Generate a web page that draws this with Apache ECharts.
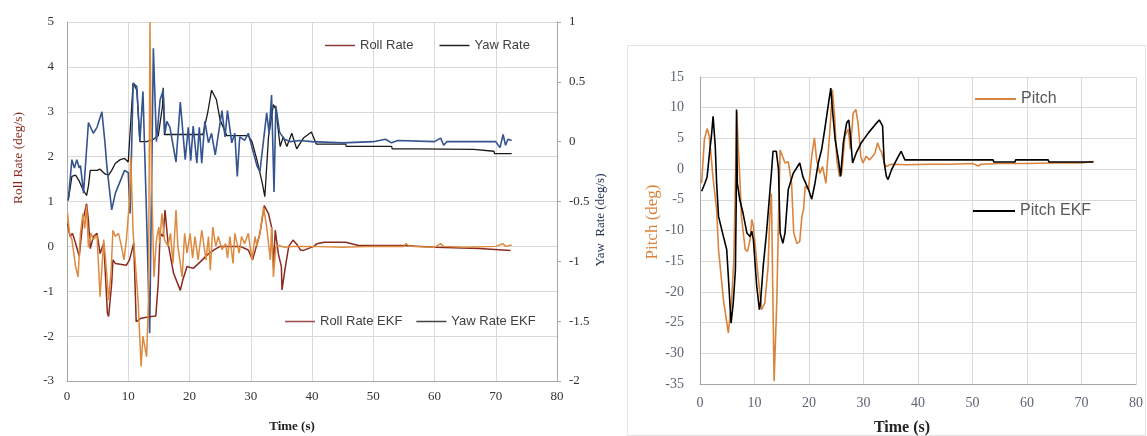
<!DOCTYPE html>
<html><head><meta charset="utf-8">
<script src="https://cdn.jsdelivr.net/npm/echarts@6/dist/echarts.min.js"></script>
<style>html,body{margin:0;padding:0;background:#fff}#c{width:1147px;height:436px}</style>
</head><body><div id="c"></div>
<script>
// ---------- Left panel: Roll / Yaw rates ----------
const rollT = [0.1,0.4,0.8,1.4,1.8,2.2,2.6,2.9,3.2,3.5,3.9,4.3,4.9,5.4,6.0,6.4,6.8,7.2,7.5,7.9,8.4,8.8,9.3,9.7,10.2,10.4,10.8,11.2,11.6,12.1,12.4,13.0,13.3,13.55,13.8,14.2,14.6,15.0,15.1,15.5,15.9,16.5,16.9,17.3,17.8,18.1,18.8,19.2,19.6,20.1,20.5,20.9,21.4,22.0,22.7,23.1,23.4,23.8,24.3,24.7,25.3,25.9,26.2,26.6,27.1,27.4,28.1,28.5,29.0,29.6,30.2,30.7,31.0,31.5,32.1,32.6,33.2,33.4,33.7,34.1,34.6,35.5,37,40,45,50,55,55.3,56,60,61,61.5,65,70,71.2,71.6,72.6];
const rollV = [0.73,0.29,0.15,-0.45,-0.68,0.29,0.73,0.4,0.91,-0.02,0.3,0.15,0.25,-1.12,0.15,-0.45,-1.2,-0.55,0.36,0.22,0.29,0.06,-0.3,0.15,1.02,2.0,0.29,-0.45,-1.2,-2.68,-2.0,-2.46,-1.2,5.0,1.5,-0.68,0.15,0.43,0.06,0.73,0.15,0.0,0.29,-0.38,0.81,0.0,-0.68,0.29,-0.15,0.29,-0.26,0.22,-0.3,0.36,-0.3,0.22,-0.53,0.43,0.0,0.22,-0.07,0.06,-0.26,0.22,-0.38,0.29,-0.15,0.22,0.06,0.29,-0.3,0.22,0.0,0.29,0.87,0.43,-0.3,0.43,-0.68,0.0,0.02,-0.02,0.0,0.0,-0.02,0.0,0.0,0.06,0.0,-0.02,0.06,0.0,-0.02,0.0,0.06,0.0,0.03];

const rollEkfT = [0.1,0.5,0.9,1.4,2.0,2.6,3.2,3.5,3.8,4.3,4.9,5.4,6.0,6.6,6.8,7.3,7.5,7.9,9.7,10.2,10.9,11.3,12.1,13.5,14.5,14.9,15.2,15.7,16.0,16.5,17.4,18.5,18.9,19.6,20.6,21.8,22.9,24.0,25.0,28.3,29.6,30.3,31.5,32.2,32.9,33.4,33.7,34.0,34.5,35.0,35.1,35.6,36.2,36.9,37.5,38.1,38.6,40.3,40.8,42.0,45.5,47.6,54.7,54.8,60.2,60.3,67.3,67.4,72.4];
const rollEkfV = [0.51,0.22,0.29,0.07,-0.22,0.58,0.95,0.58,-0.05,0.22,0.29,-0.16,0.07,-1.49,-1.56,-0.82,-0.3,-0.38,-0.42,-0.3,0.07,-1.68,-1.6,-1.57,-1.55,-0.82,0.29,0.22,0.81,0.07,-0.6,-0.98,-0.75,-0.45,-0.49,-0.34,-0.19,-0.08,0.0,0.0,-0.08,-0.3,0.29,0.91,0.73,0.43,-0.45,0.36,-0.16,-0.45,-0.97,-0.5,0.0,0.14,0.05,-0.08,-0.09,0.0,0.06,0.09,0.09,0.02,0.02,-0.02,-0.02,-0.05,-0.05,-0.09,-0.09];

const yawT = [0.2,0.8,1.2,1.6,2.0,2.2,2.7,3.5,4.3,4.9,5.7,6.2,6.5,7.3,7.9,9.4,10.0,10.3,10.8,11.4,11.9,12.4,12.9,13.5,14.1,14.6,15.2,15.7,16.0,16.3,16.8,17.8,18.5,19.3,19.8,20.2,20.6,21.2,21.6,22.0,22.5,23.1,23.6,24.2,25.3,25.8,26.2,26.9,27.4,27.8,28.2,29.0,29.6,31.0,31.5,32.6,33.0,33.4,33.8,34.1,34.7,35.5,36.5,38,40,45,50,52,53,54,60,61,61.5,62,70,70.7,71.2,71.6,72.0,72.6];
const yawV = [-0.49,-0.15,-0.22,-0.15,-0.22,-0.2,-0.43,0.16,0.07,0.12,0.25,-0.01,-0.2,-0.57,-0.43,-0.24,-0.26,-0.6,0.49,0.46,0.0,0.42,-0.46,-1.6,0.78,0.0,0.35,0.43,0.07,0.17,0.12,-0.17,0.33,-0.15,0.12,-0.16,0.13,-0.18,0.12,-0.18,0.17,-0.01,0.07,-0.11,0.26,0.04,0.26,-0.01,0.07,-0.29,0.04,0.01,0.07,-0.2,-0.25,0.24,0.07,0.39,-0.42,0.3,0.08,0.02,0.0,0.01,0.0,-0.01,0.0,0.02,-0.01,0.01,0.0,0.03,-0.03,0.0,0.0,-0.05,0.06,-0.03,0.02,0.01];

const yawEkfT = [0.2,0.8,1.4,2.0,2.6,3.2,3.5,3.8,4.9,5.4,6.2,6.8,7.3,7.9,8.7,9.4,10.0,10.8,11.4,11.9,13.0,14.1,14.9,15.6,15.7,15.9,22.2,23.0,23.6,24.4,25.0,26.1,29.6,30.2,31.0,31.9,32.3,32.9,33.7,34.1,34.8,35.3,35.9,36.7,37.5,38.6,39.9,40.7,45.5,45.6,53.0,53.1,56.9,57.0,66.4,66.5,69.7,69.8,72.6];
const yawEkfV = [-0.49,-0.29,-0.28,-0.33,-0.4,-0.45,-0.37,-0.24,-0.24,-0.23,-0.27,-0.28,-0.24,-0.18,-0.15,-0.14,-0.17,0.49,0.43,0.0,0.0,0.02,0.05,0.3,0.45,0.06,0.06,0.25,0.43,0.35,0.18,0.05,0.05,0.0,-0.15,-0.35,-0.46,0.04,0.31,0.27,-0.04,0.04,-0.04,0.07,-0.06,0.03,0.08,-0.02,-0.02,-0.04,-0.04,-0.06,-0.06,-0.065,-0.065,-0.08,-0.08,-0.1,-0.1];

// ---------- Right panel: Pitch ----------
const pitchT = [0.3,0.8,1.3,1.7,2.1,2.4,3.05,3.4,4.3,5.2,5.8,6.2,6.5,6.75,7.0,7.3,7.6,8.3,8.7,9.2,9.5,9.8,10.5,11.3,11.9,12.5,12.8,13.1,13.6,14.1,14.4,14.7,15.0,15.6,16.2,16.8,17.2,17.8,18.3,18.7,19.0,19.3,19.9,20.5,21.0,21.4,22.0,22.5,23.1,23.4,23.8,24.3,24.7,25.1,25.6,26.0,26.6,27.2,27.6,28.1,28.6,29.0,29.5,29.9,30.5,31.1,31.7,32.1,32.6,33.0,33.3,33.8,34.2,35,38,42,46,50,51.1,51.5,55,60,65,70,72.2];
const pitchV = [-2.3,4.8,6.6,5.4,1.5,-1.5,-6.6,-13.1,-21.3,-26.7,-21.3,-15,-2,9.4,4,-1.2,-7.7,-13.1,-13.4,-11.5,-8.2,-9.3,-16,-22.9,-21.8,-15.8,-7.7,-4,-34.5,-21.3,-8.2,3.1,3.4,1.0,1.2,-2.3,-10.4,-12.1,-11.8,-7.7,-6.6,-2.8,-3.3,2.1,5.1,1.5,-0.7,0.4,-2.3,-2.6,5.9,12.9,8.6,1.5,-1.2,-0.7,5.4,6.5,3.2,9.1,9.7,7.5,2.1,1.0,2.1,1.5,2.1,2.6,4.3,3.2,2.8,1.0,0.4,0.8,0.7,0.8,0.8,0.9,0.5,0.8,0.9,0.9,1.0,1.0,1.25];

const pitchEkfT = [0.3,0.9,1.3,1.8,2.1,2.4,2.6,2.8,3.05,3.4,4.3,4.9,5.3,5.7,6.1,6.5,6.65,6.7,6.85,7.3,7.9,8.6,9.2,9.5,9.8,10.4,10.9,11.1,11.6,12.2,12.7,13.1,13.4,14.0,14.4,14.7,15.2,15.6,16.2,17.1,18.3,18.9,19.9,20.5,21.1,21.7,22.3,22.9,23.5,24.0,24.3,24.8,25.4,25.8,26.3,26.9,27.3,27.6,28.0,28.7,29.6,30.9,32.1,32.9,33.5,33.8,34.2,34.5,35.2,36.1,36.9,37.3,37.6,53.8,53.9,57.8,57.9,63.9,64.0,72.2];
const pitchEkfV = [-3.6,-2.3,-1.3,3.1,5.4,8.6,8.9,3.7,-2.3,-7.7,-11,-13.1,-19,-25.1,-21.8,-16.4,-5,9.7,-2.3,-5,-7.2,-10.4,-11,-10.1,-11.5,-19,-22.9,-21.8,-15.8,-10.4,-5,-0.7,2.9,2.9,0,-10.4,-12.1,-10.4,-3.3,-0.7,1.0,-1.3,-3.3,-4.9,-2.3,1.0,3.1,6.5,10.2,13.2,9.7,4.8,1.5,-1.2,4.3,7.5,8.0,5.4,1.0,2.7,4.3,5.9,7.2,8.0,7,1.0,-1.2,-1.7,0,1.6,2.9,2.1,1.5,1.5,1.15,1.15,1.5,1.5,1.15,1.15];

// ticks
const xTicks = {min:0, max:80, interval:10};
const rollTicks = {min:-3, max:5, interval:1};
const yawTicks = {min:-2, max:1, interval:0.5};
const pitchTicks = {min:-35, max:15, interval:5};

const zip = (t,v) => t.map((x,i)=>[x,v[i]]);

const serif = 'Liberation Serif';
const sans = 'Liberation Sans';
const gridCol = '#d9d9d9';
const axisCol = '#a6a6a6';

function legendItem(name, color){
  return {name:name, icon:'rect', itemStyle:{color:color, borderWidth:0}};
}

const chart = echarts.init(document.getElementById('c'), null, {renderer:'canvas'});
chart.setOption({
  animation:false,
  backgroundColor:'#fff',
  grid:[
    {left:67, right:590, top:22, bottom:55},
    {left:700, right:11, top:77, bottom:52}
  ],
  xAxis:[
    {gridIndex:0, type:'value', min:xTicks.min, max:xTicks.max, interval:xTicks.interval,
     axisLine:{show:true, onZero:false, lineStyle:{color:axisCol}}, axisTick:{show:false},
     splitLine:{show:true, lineStyle:{color:gridCol, width:1}},
     axisLabel:{fontFamily:serif, fontSize:13, color:'#333', margin:9}},
    {gridIndex:1, type:'value', min:xTicks.min, max:xTicks.max, interval:xTicks.interval,
     axisLine:{show:true, onZero:false, lineStyle:{color:axisCol}}, axisTick:{show:false},
     splitLine:{show:true, lineStyle:{color:gridCol, width:1}},
     axisLabel:{fontFamily:serif, fontSize:14, color:'#5d6474', margin:12}}
  ],
  yAxis:[
    {gridIndex:0, type:'value', min:rollTicks.min, max:rollTicks.max, interval:rollTicks.interval, position:'left',
     axisLine:{show:true, lineStyle:{color:axisCol}}, axisTick:{show:false},
     splitLine:{show:true, lineStyle:{color:gridCol, width:1}},
     axisLabel:{fontFamily:serif, fontSize:13, color:'#333', margin:13}},
    {gridIndex:0, type:'value', min:yawTicks.min, max:yawTicks.max, interval:yawTicks.interval, position:'right',
     axisLine:{show:true, lineStyle:{color:axisCol}}, axisTick:{show:true, inside:false, length:4, lineStyle:{color:axisCol}},
     splitLine:{show:false},
     axisLabel:{fontFamily:serif, fontSize:13, color:'#333', margin:12}},
    {gridIndex:1, type:'value', min:pitchTicks.min, max:pitchTicks.max, interval:pitchTicks.interval, position:'left',
     axisLine:{show:true, lineStyle:{color:axisCol}}, axisTick:{show:false},
     splitLine:{show:true, lineStyle:{color:gridCol, width:1}},
     axisLabel:{fontFamily:serif, fontSize:14, color:'#5d6474', margin:16}}
  ],
  legend:[
    {id:'lgA', left:325, top:39, padding:0, itemWidth:30, itemHeight:1.5, itemGap:26,
     textStyle:{fontFamily:sans, fontSize:13, color:'#404040'},
     data:[legendItem('Roll Rate','#8b3a35'), legendItem('Yaw Rate','#222')]},
    {id:'lgB', left:285, top:315, padding:0, itemWidth:30, itemHeight:1.5, itemGap:14,
     textStyle:{fontFamily:sans, fontSize:13, color:'#404040'},
     data:[legendItem('Roll Rate EKF','#9a4a45'), legendItem('Yaw Rate EKF','#444')]},
    {id:'lgC', left:975, top:91, padding:0, itemWidth:41, itemHeight:1.8,
     textStyle:{fontFamily:sans, fontSize:16, color:'#595959'},
     data:[legendItem('Pitch','#d9843e')]},
    {id:'lgD', left:973, top:203, padding:0, itemWidth:42, itemHeight:1.8,
     textStyle:{fontFamily:sans, fontSize:16, color:'#595959'},
     data:[legendItem('Pitch EKF','#000')]}
  ],
  series:[
    {name:'Yaw Rate EKF', type:'line', xAxisIndex:0, yAxisIndex:1, symbol:'none', data:zip(yawEkfT,yawEkfV),
     lineStyle:{color:'#1a1a1a', width:1.3}, itemStyle:{color:'#1a1a1a'}},
    {name:'Yaw Rate', type:'line', xAxisIndex:0, yAxisIndex:1, symbol:'none', data:zip(yawT,yawV),
     lineStyle:{color:'#35548f', width:1.6}, itemStyle:{color:'#35548f'}},
    {name:'Roll Rate EKF', type:'line', xAxisIndex:0, yAxisIndex:0, symbol:'none', data:zip(rollEkfT,rollEkfV),
     lineStyle:{color:'#8b2a1e', width:1.5}, itemStyle:{color:'#8b2a1e'}},
    {name:'Roll Rate', type:'line', xAxisIndex:0, yAxisIndex:0, symbol:'none', data:zip(rollT,rollV),
     lineStyle:{color:'#de8a3e', width:1.5}, itemStyle:{color:'#de8a3e'}},
    {name:'Pitch', type:'line', xAxisIndex:1, yAxisIndex:2, symbol:'none', data:zip(pitchT,pitchV),
     lineStyle:{color:'#d9843e', width:1.6}, itemStyle:{color:'#d9843e'}},
    {name:'Pitch EKF', type:'line', xAxisIndex:1, yAxisIndex:2, symbol:'none', data:zip(pitchEkfT,pitchEkfV),
     lineStyle:{color:'#000', width:1.6}, itemStyle:{color:'#000'}}
  ],
  graphic:[
    {type:'rect', shape:{x:627.5, y:45.5, width:518, height:390}, style:{fill:'none', stroke:'#e3e3e3', lineWidth:1}, z:-1},
    {type:'text', x:18, y:158, rotation:Math.PI/2, style:{text:'Roll Rate (deg/s)', font:'13.5px "Liberation Serif"', fill:'#8b2a1e', align:'center', verticalAlign:'middle'}},
    {type:'text', x:601, y:220, rotation:Math.PI/2, style:{text:'Yaw  Rate (deg/s)', font:'13px "Liberation Serif"', fill:'#1f2d4f', align:'center', verticalAlign:'middle'}},
    {type:'text', x:292, y:427, style:{text:'Time (s)', font:'bold 13px "Liberation Serif"', fill:'#222', align:'center', verticalAlign:'middle'}},
    {type:'text', x:653, y:222, rotation:Math.PI/2, style:{text:'Pitch (deg)', font:'17px "Liberation Serif"', fill:'#d9843e', align:'center', verticalAlign:'middle'}},
    {type:'text', x:902, y:428, style:{text:'Time (s)', font:'bold 16px "Liberation Serif"', fill:'#222', align:'center', verticalAlign:'middle'}}
  ]
});
</script></body></html>
